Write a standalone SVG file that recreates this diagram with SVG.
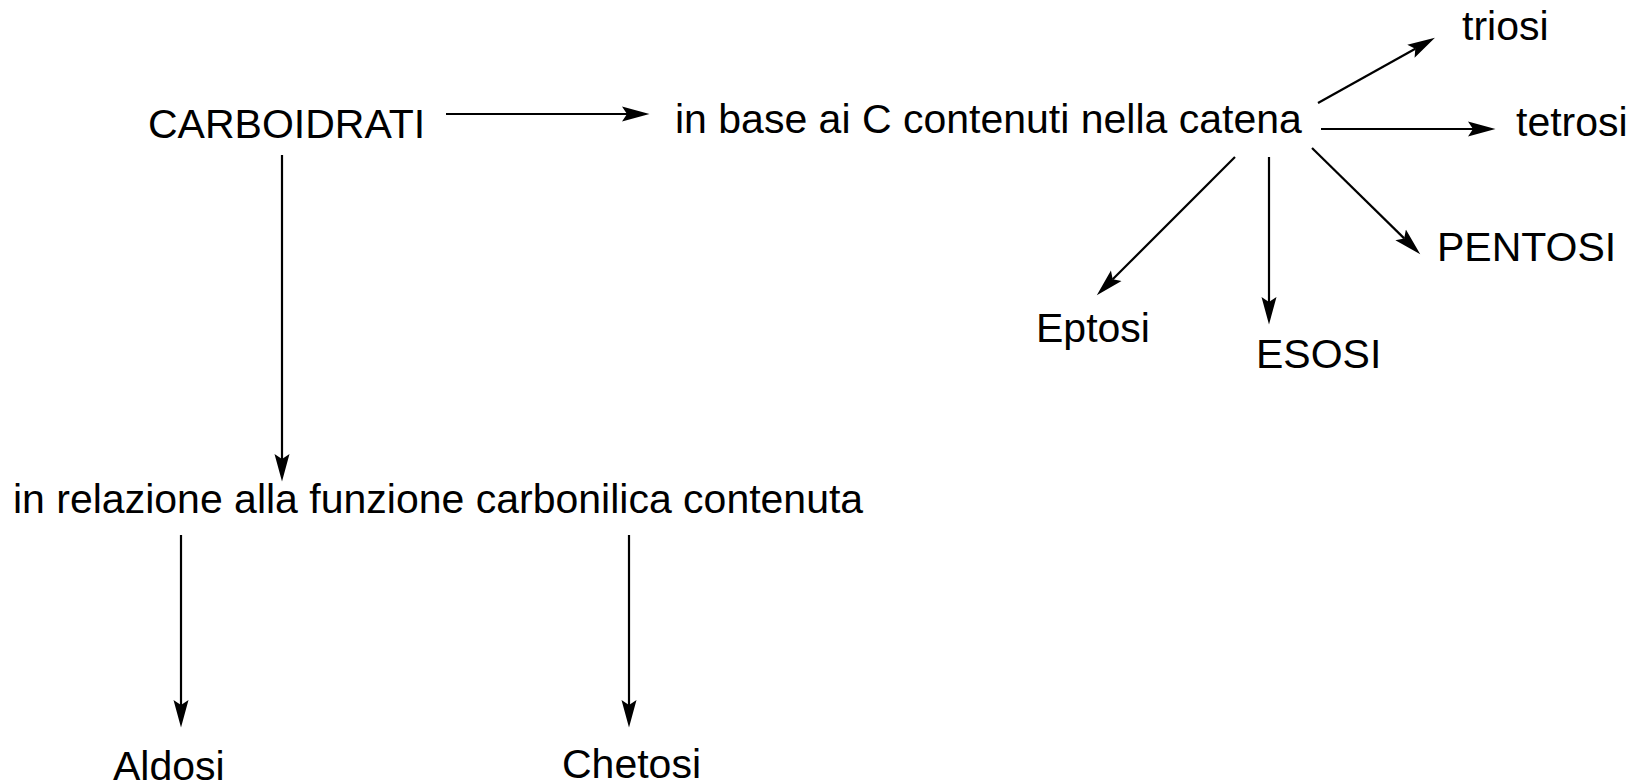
<svg xmlns="http://www.w3.org/2000/svg" width="1644" height="783" viewBox="0 0 1644 783">
<defs>
<style>
.t{font-family:"Liberation Sans",Arial,sans-serif;font-size:41px;fill:#000}
.c line{stroke:#000;stroke-width:2.2;marker-end:url(#ah)}
</style>
<marker id="ah" markerUnits="userSpaceOnUse" markerWidth="30" markerHeight="20" refX="4" refY="6" orient="auto" viewBox="0 0 24 12">
<path d="M22,6 L0,0 L4,6 L0,12 Z" fill="#000"/>
</marker>
</defs>
<rect width="1644" height="783" fill="#fff"/>
<g class="c" id="connectors">
<line x1="446" y1="114" x2="627" y2="114"/>
<line x1="282" y1="155" x2="282" y2="459"/>
<line x1="181" y1="535" x2="181" y2="705"/>
<line x1="629" y1="535" x2="629" y2="705"/>
<line x1="1321" y1="129" x2="1473" y2="129"/>
<line x1="1269" y1="157" x2="1269" y2="302"/>
<line x1="1318" y1="103" x2="1415.3" y2="48.8"/>
<line x1="1235" y1="157" x2="1112.7" y2="279.3"/>
<line x1="1312" y1="148" x2="1404.2" y2="238.4"/>
</g>
<g id="carboidrati"><text class="t" x="148" y="138">CARBOIDRATI</text></g>
<g id="in-base"><text class="t" x="675" y="133">in base ai C contenuti nella catena</text></g>
<g id="triosi"><text class="t" x="1462" y="40">triosi</text></g>
<g id="tetrosi"><text class="t" x="1516" y="136">tetrosi</text></g>
<g id="pentosi"><text class="t" x="1437" y="261">PENTOSI</text></g>
<g id="eptosi"><text class="t" x="1036" y="342">Eptosi</text></g>
<g id="esosi"><text class="t" x="1256" y="368">ESOSI</text></g>
<g id="in-relazione"><text class="t" x="13" y="513">in relazione alla funzione carbonilica contenuta</text></g>
<g id="aldosi"><text class="t" x="113" y="780">Aldosi</text></g>
<g id="chetosi"><text class="t" x="562" y="778">Chetosi</text></g>
</svg>
